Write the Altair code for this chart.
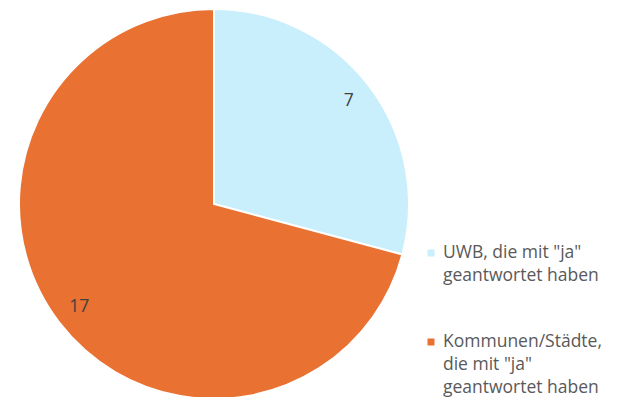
import altair as alt
import pandas as pd

categories = ['UWB, die mit "ja" geantwortet haben', 'Kommunen/Städte, die mit "ja" geantwortet haben']
legend_lines = ['UWB, die mit "ja"|geantwortet haben', 'Kommunen/Städte,|die mit "ja"|geantwortet haben']
values = [7, 17]
order = [0, 1]
colors = ["#C9EEFC", "#E97132"]

df = pd.DataFrame({"cat": categories, "value": values, "order": order, "legend": legend_lines})

cx, cy = 206, 196
color = alt.Color("cat:N", scale=alt.Scale(domain=categories, range=colors), legend=None)

base = alt.Chart(df).encode(
    theta=alt.Theta("value:Q", stack=True),
    order=alt.Order("order:Q"),
)

pie = base.mark_arc(radius=195, stroke="white", strokeWidth=2).encode(
    color=color, x=alt.value(cx), y=alt.value(cy)
)

labels = base.mark_text(radius=170, font="Open Sans", fontSize=17.5, color="#404040").encode(
    text="value:Q", x=alt.value(cx), y=alt.value(cy)
)

ys = alt.Y("cat:N", scale=alt.Scale(domain=categories, range=[245, 334], padding=0), axis=None)

sq = alt.Chart(df).mark_square(size=49, opacity=1).encode(
    x=alt.value(423), y=ys, color=color
)

lt = alt.Chart(df).mark_text(
    align="left", baseline="middle", font="Open Sans", fontSize=17.5,
    color="#595959", lineBreak="|", lineHeight=23
).encode(x=alt.value(435), y=ys, text="legend:N")

chart = alt.layer(pie, labels, sq, lt).properties(
    width=615, height=389, padding=0, autosize=alt.AutoSizeParams(type="none")
).configure_view(stroke=None)

chart.save("out.html", embed_options={"renderer": "svg", "actions": False})
